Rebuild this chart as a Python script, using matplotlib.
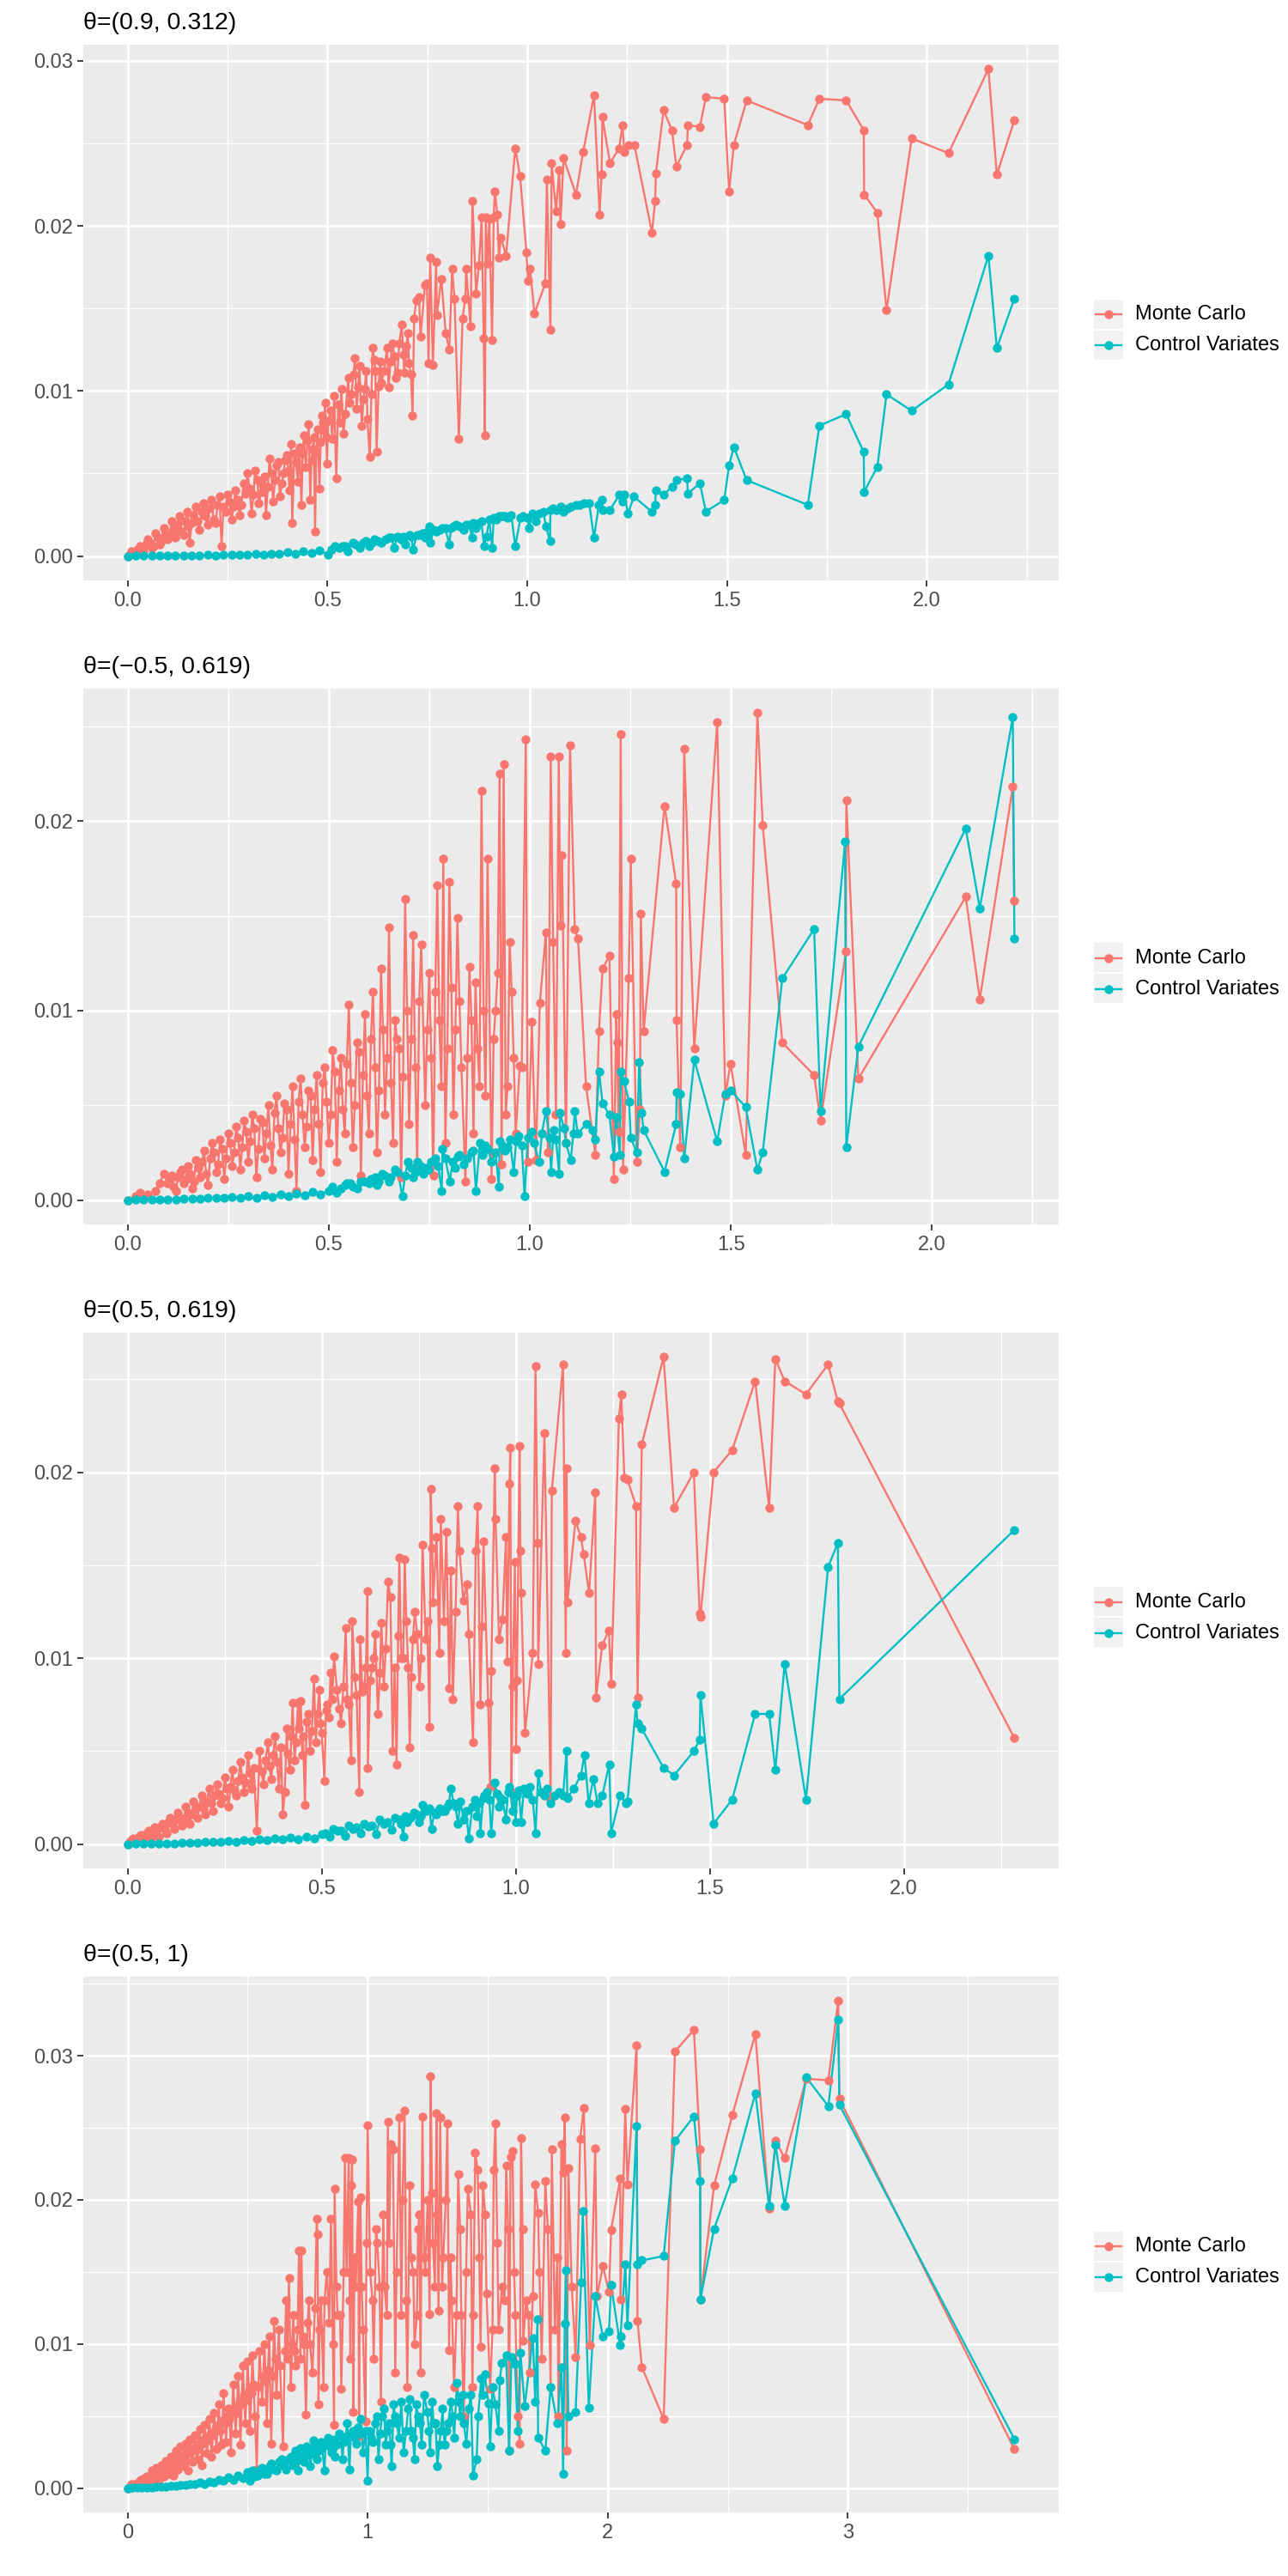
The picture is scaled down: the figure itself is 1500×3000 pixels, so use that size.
import matplotlib
matplotlib.use("Agg")
import matplotlib.pyplot as plt
from matplotlib.lines import Line2D
from matplotlib.patches import Rectangle
from matplotlib.ticker import MultipleLocator, FormatStrFormatter

plt.rcParams["font.family"] = ["Liberation Sans", "DejaVu Sans"]

SERIES = ["Monte Carlo", "Control Variates"]
COLORS = ["#F8766D", "#00BFC4"]
TITLES = ["\u03b8=(0.9, 0.312)", "\u03b8=(\u22120.5, 0.619)",
          "\u03b8=(0.5, 0.619)", "\u03b8=(0.5, 1)"]

# ---- panel 1: theta=(0.9, 0.312) ----
p1_mc_x = [0.000, 0.010, 0.020, 0.030, 0.040, 0.050, 0.060, 0.070, 0.080, 0.090,
           0.100, 0.110, 0.120, 0.130, 0.140, 0.150, 0.155, 0.160, 0.170, 0.180,
           0.190, 0.200, 0.210, 0.220, 0.230, 0.235, 0.240, 0.250, 0.260, 0.270,
           0.280, 0.290, 0.300, 0.310, 0.319, 0.328, 0.339, 0.346, 0.355, 0.364,
           0.373, 0.381, 0.390, 0.399, 0.405, 0.412, 0.417, 0.426, 0.430, 0.435,
           0.441, 0.446, 0.453, 0.457, 0.463, 0.469, 0.475, 0.480, 0.486, 0.491,
           0.494, 0.499, 0.502, 0.517, 0.522, 0.531, 0.540, 0.552, 0.555, 0.569,
           0.573, 0.580, 0.586, 0.593, 0.600, 0.606, 0.613, 0.617, 0.623, 0.628,
           0.635, 0.649, 0.653, 0.662, 0.675, 0.680, 0.686, 0.692, 0.698, 0.704,
           0.709, 0.713, 0.717, 0.722, 0.729, 0.733, 0.744, 0.749, 0.753, 0.757,
           0.764, 0.772, 0.774, 0.785, 0.796, 0.805, 0.812, 0.818, 0.829, 0.838,
           0.845, 0.847, 0.858, 0.863, 0.872, 0.879, 0.886, 0.891, 0.894, 0.896,
           0.901, 0.905, 0.912, 0.916, 0.919, 0.925, 0.929, 0.934, 0.947, 0.970,
           0.982, 0.998, 1.002, 1.007, 1.018, 1.045, 1.049, 1.058, 1.061, 1.072,
           1.080, 1.083, 1.091, 1.122, 1.140, 1.167, 1.181, 1.186, 1.188, 1.207,
           1.230, 1.238, 1.243, 1.254, 1.268, 1.312, 1.320, 1.322, 1.341, 1.362,
           1.373, 1.400, 1.402, 1.432, 1.447, 1.493, 1.505, 1.517, 1.549, 1.702,
           1.731, 1.798, 1.842, 1.843, 1.876, 1.899, 1.962, 2.054, 2.154, 2.175,
           2.219]
p1_mc = [0.0000, 0.0003, 0.0001, 0.0006, 0.0003, 0.0010, 0.0005, 0.0014, 0.0007, 0.0017,
         0.0010, 0.0021, 0.0011, 0.0024, 0.0013, 0.0027, 0.0008, 0.0020, 0.0030, 0.0016,
         0.0032, 0.0019, 0.0034, 0.0020, 0.0036, 0.0006, 0.0030, 0.0037, 0.0022, 0.0040,
         0.0025, 0.0044, 0.0050, 0.0026, 0.0052, 0.0032, 0.0043, 0.0025, 0.0059, 0.0033,
         0.0055, 0.0036, 0.0050, 0.0061, 0.0040, 0.0020, 0.0062, 0.0045, 0.0066, 0.0031,
         0.0073, 0.0054, 0.0080, 0.0034, 0.0065, 0.0015, 0.0077, 0.0041, 0.0085, 0.0076,
         0.0093, 0.0056, 0.0082, 0.0097, 0.0047, 0.0081, 0.0074, 0.0108, 0.0093, 0.0120,
         0.0089, 0.0115, 0.0079, 0.0101, 0.0083, 0.0060, 0.0126, 0.0119, 0.0063, 0.0103,
         0.0105, 0.0126, 0.0102, 0.0129, 0.0111, 0.0129, 0.0140, 0.0111, 0.0127, 0.0117,
         0.0110, 0.0085, 0.0144, 0.0155, 0.0157, 0.0133, 0.0164, 0.0165, 0.0117, 0.0181,
         0.0116, 0.0178, 0.0146, 0.0168, 0.0135, 0.0125, 0.0174, 0.0156, 0.0071, 0.0144,
         0.0156, 0.0174, 0.0139, 0.0215, 0.0159, 0.0176, 0.0205, 0.0132, 0.0073, 0.0205,
         0.0177, 0.0204, 0.0131, 0.0205, 0.0221, 0.0207, 0.0181, 0.0193, 0.0182, 0.0247,
         0.0230, 0.0184, 0.0167, 0.0174, 0.0147, 0.0165, 0.0228, 0.0137, 0.0238, 0.0209,
         0.0234, 0.0201, 0.0241, 0.0219, 0.0245, 0.0279, 0.0207, 0.0231, 0.0266, 0.0238,
         0.0247, 0.0261, 0.0245, 0.0249, 0.0249, 0.0196, 0.0215, 0.0232, 0.0270, 0.0258,
         0.0236, 0.0249, 0.0261, 0.0260, 0.0278, 0.0277, 0.0221, 0.0249, 0.0276, 0.0261,
         0.0277, 0.0276, 0.0258, 0.0219, 0.0208, 0.0149, 0.0253, 0.0244, 0.0295, 0.0231,
         0.0264]
# extra readings inside the dense low-x cloud
p1_mc_extra_x = [0.005, 0.015, 0.025, 0.035, 0.045, 0.055, 0.065, 0.075, 0.085, 0.095,
                 0.105, 0.115, 0.125, 0.135, 0.145, 0.152, 0.165, 0.175, 0.185, 0.195,
                 0.205, 0.215, 0.225, 0.245, 0.255, 0.265, 0.275, 0.285, 0.295, 0.305,
                 0.315, 0.325, 0.335, 0.343, 0.351, 0.360, 0.369, 0.377, 0.386, 0.394,
                 0.402, 0.409, 0.421, 0.438, 0.450, 0.460, 0.466, 0.472, 0.483, 0.489,
                 0.497, 0.508, 0.512, 0.527, 0.535, 0.545, 0.560, 0.565, 0.577, 0.590,
                 0.597, 0.610, 0.620, 0.632, 0.642, 0.658, 0.668, 0.671, 0.690, 0.701]
p1_mc_extra = [0.0001, 0.0002, 0.0004, 0.0003, 0.0007, 0.0008, 0.0006, 0.0011, 0.0009, 0.0014,
               0.0013, 0.0016, 0.0019, 0.0015, 0.0021, 0.0018, 0.0025, 0.0021, 0.0027, 0.0024,
               0.0029, 0.0022, 0.0031, 0.0027, 0.0033, 0.0030, 0.0034, 0.0031, 0.0038, 0.0041,
               0.0037, 0.0046, 0.0039, 0.0048, 0.0042, 0.0050, 0.0046, 0.0057, 0.0044, 0.0058,
               0.0052, 0.0068, 0.0057, 0.0062, 0.0070, 0.0058, 0.0072, 0.0063, 0.0069, 0.0081,
               0.0072, 0.0088, 0.0071, 0.0092, 0.0101, 0.0086, 0.0098, 0.0110, 0.0102, 0.0095,
               0.0112, 0.0098, 0.0112, 0.0118, 0.0112, 0.0118, 0.0121, 0.0108, 0.0122, 0.0135]
p1_cv_x = [0.00, 0.02, 0.04, 0.06, 0.08, 0.10, 0.12, 0.14, 0.16, 0.18,
           0.20, 0.22, 0.24, 0.26, 0.28, 0.30, 0.32, 0.34, 0.36, 0.38,
           0.40, 0.42, 0.44, 0.46, 0.48, 0.502, 0.519, 0.537, 0.550, 0.564,
           0.580, 0.595, 0.605, 0.618, 0.635, 0.653, 0.667, 0.675, 0.685, 0.695,
           0.705, 0.714, 0.724, 0.738, 0.745, 0.756, 0.758, 0.773, 0.787, 0.805,
           0.809, 0.822, 0.840, 0.847, 0.862, 0.872, 0.880, 0.892, 0.898, 0.912,
           0.916, 0.929, 0.940, 0.950, 0.970, 0.983, 1.000, 1.005, 1.021, 1.047,
           1.057, 1.058, 1.072, 1.083, 1.090, 1.122, 1.141, 1.167, 1.179, 1.186,
           1.190, 1.207, 1.230, 1.238, 1.243, 1.252, 1.267, 1.311, 1.320, 1.322,
           1.341, 1.362, 1.373, 1.400, 1.402, 1.432, 1.447, 1.493, 1.505, 1.517,
           1.549, 1.702, 1.731, 1.798, 1.842, 1.843, 1.876, 1.899, 1.962, 2.054,
           2.154, 2.175, 2.219]
p1_cv = [0.00000, 0.00001, 0.00002, 0.00001, 0.00003, 0.00002, 0.00004, 0.00003, 0.00005, 0.00004,
         0.00006, 0.00005, 0.00008, 0.00006, 0.00010, 0.00008, 0.00013, 0.00010, 0.00016, 0.00012,
         0.00022, 0.00015, 0.00028, 0.00020, 0.00035, 0.0001, 0.0006, 0.0006, 0.0003, 0.0008,
         0.0005, 0.0009, 0.0006, 0.0010, 0.0008, 0.0011, 0.0005, 0.0012, 0.0010, 0.0007,
         0.0013, 0.0004, 0.0013, 0.0014, 0.0011, 0.0018, 0.0008, 0.0015, 0.0017, 0.0007,
         0.0017, 0.0019, 0.0016, 0.0019, 0.0011, 0.0017, 0.0020, 0.0006, 0.0012, 0.0005,
         0.0023, 0.0024, 0.0024, 0.0023, 0.0006, 0.0023, 0.0023, 0.0017, 0.0021, 0.0018,
         0.0009, 0.0028, 0.0028, 0.0030, 0.0027, 0.0031, 0.0032, 0.0011, 0.0031, 0.0034,
         0.0028, 0.0028, 0.0037, 0.0033, 0.0037, 0.0026, 0.0036, 0.0027, 0.0031, 0.0040,
         0.0037, 0.0042, 0.0046, 0.0047, 0.0038, 0.0044, 0.0027, 0.0034, 0.0055, 0.0066,
         0.0046, 0.0031, 0.0079, 0.0086, 0.0063, 0.0039, 0.0054, 0.0098, 0.0088, 0.0104,
         0.0182, 0.0126, 0.0156]
p1_cv_extra_x = [0.51, 0.53, 0.545, 0.57, 0.59, 0.61, 0.625, 0.645, 0.66, 0.68,
                 0.69, 0.71, 0.73, 0.75, 0.765, 0.78, 0.795, 0.815, 0.83, 0.855,
                 0.865, 0.885, 0.905, 0.922, 0.935, 0.945, 0.96, 0.99, 1.012, 1.03,
                 1.04, 1.065, 1.10, 1.11, 1.13, 1.155]
p1_cv_extra = [0.0004, 0.0005, 0.0006, 0.0007, 0.0008, 0.0008, 0.0009, 0.0010, 0.0011, 0.0011,
               0.0012, 0.0012, 0.0013, 0.0015, 0.0016, 0.0016, 0.0017, 0.0018, 0.0018, 0.0019,
               0.0020, 0.0021, 0.0022, 0.0022, 0.0024, 0.0024, 0.0025, 0.0024, 0.0026, 0.0026,
               0.0027, 0.0029, 0.0029, 0.0030, 0.0031, 0.0032]

# ---- panel 2: theta=(-0.5, 0.619) ----
p2_mc_x = [0.00, 0.02, 0.03, 0.05, 0.07, 0.08, 0.09, 0.10, 0.11, 0.12,
           0.13, 0.14, 0.15, 0.16, 0.17, 0.18, 0.19, 0.20, 0.21, 0.22,
           0.23, 0.24, 0.25, 0.26, 0.27, 0.28, 0.29, 0.30, 0.31, 0.32,
           0.33, 0.34, 0.35, 0.36, 0.37, 0.38, 0.39, 0.40, 0.41, 0.42,
           0.43, 0.44, 0.45, 0.46, 0.47, 0.48, 0.49, 0.50, 0.51, 0.52,
           0.53, 0.54, 0.55, 0.56, 0.57, 0.58, 0.59, 0.60, 0.61, 0.62,
           0.63, 0.64, 0.65, 0.66, 0.67, 0.68, 0.69, 0.70, 0.71, 0.72,
           0.73, 0.74, 0.75, 0.76, 0.77, 0.78, 0.785, 0.79, 0.80, 0.81,
           0.82, 0.83, 0.84, 0.85, 0.86, 0.87, 0.88, 0.89, 0.895, 0.905,
           0.915, 0.925, 0.93, 0.935, 0.945, 0.95, 0.96, 0.975, 0.99, 0.995,
           1.005, 1.015, 1.025, 1.04, 1.045, 1.052, 1.058, 1.065, 1.072, 1.076,
           1.08, 1.09, 1.10, 1.112, 1.12, 1.14, 1.163, 1.172, 1.181, 1.198,
           1.209, 1.215, 1.217, 1.221, 1.226, 1.232, 1.246, 1.251, 1.266, 1.274,
           1.276, 1.283, 1.335, 1.364, 1.365, 1.374, 1.384, 1.409, 1.466, 1.486,
           1.499, 1.537, 1.566, 1.579, 1.628, 1.707, 1.723, 1.786, 1.787, 1.817,
           2.084, 2.119, 2.201, 2.205]
p2_mc = [0.0000, 0.0002, 0.0004, 0.0003, 0.0005, 0.0009, 0.0014, 0.0009, 0.0013, 0.0005,
         0.0015, 0.0009, 0.0018, 0.0006, 0.0021, 0.0012, 0.0026, 0.0008, 0.0030, 0.0015,
         0.0032, 0.0011, 0.0035, 0.0018, 0.0039, 0.0016, 0.0042, 0.0020, 0.0045, 0.0012,
         0.0043, 0.0022, 0.0050, 0.0016, 0.0055, 0.0025, 0.0051, 0.0014, 0.0060, 0.0005,
         0.0064, 0.0028, 0.0058, 0.0021, 0.0066, 0.0015, 0.0070, 0.0030, 0.0079, 0.0020,
         0.0075, 0.0035, 0.0103, 0.0028, 0.0083, 0.0013, 0.0098, 0.0035, 0.0110, 0.0025,
         0.0122, 0.0045, 0.0144, 0.0030, 0.0085, 0.0012, 0.0159, 0.0040, 0.0140, 0.0018,
         0.0135, 0.0050, 0.0120, 0.0013, 0.0166, 0.0060, 0.0180, 0.0030, 0.0168, 0.0045,
         0.0149, 0.0070, 0.0010, 0.0123, 0.0035, 0.0080, 0.0216, 0.0055, 0.0180, 0.0011,
         0.0100, 0.0225, 0.0019, 0.0230, 0.0060, 0.0136, 0.0075, 0.0071, 0.0243, 0.0020,
         0.0094, 0.0021, 0.0104, 0.0141, 0.0025, 0.0234, 0.0136, 0.0045, 0.0234, 0.0145,
         0.0182, 0.0030, 0.0240, 0.0143, 0.0138, 0.0060, 0.0024, 0.0089, 0.0122, 0.0129,
         0.0011, 0.0098, 0.0083, 0.0036, 0.0246, 0.0016, 0.0117, 0.0180, 0.0020, 0.0048,
         0.0151, 0.0089, 0.0208, 0.0167, 0.0095, 0.0028, 0.0238, 0.0080, 0.0252, 0.0055,
         0.0072, 0.0024, 0.0257, 0.0198, 0.0083, 0.0066, 0.0042, 0.0131, 0.0211, 0.0064,
         0.0160, 0.0106, 0.0218, 0.0158]
p2_mc_extra_x = [0.105, 0.115, 0.125, 0.135, 0.145, 0.155, 0.165, 0.175, 0.185, 0.195,
                 0.205, 0.215, 0.225, 0.235, 0.245, 0.255, 0.265, 0.275, 0.285, 0.295,
                 0.305, 0.315, 0.325, 0.335, 0.345, 0.355, 0.365, 0.375, 0.385, 0.395,
                 0.405, 0.415, 0.425, 0.435, 0.445, 0.455, 0.465, 0.475, 0.485, 0.495,
                 0.505, 0.515, 0.525, 0.535, 0.545, 0.555, 0.565, 0.575, 0.585, 0.595,
                 0.605, 0.615, 0.625, 0.635, 0.645, 0.655, 0.665, 0.675, 0.685, 0.695,
                 0.705, 0.715, 0.725, 0.745, 0.755, 0.765, 0.775, 0.795, 0.805, 0.815,
                 0.825, 0.845, 0.855, 0.865, 0.875, 0.885, 0.91, 0.92, 0.94, 0.955,
                 0.965, 0.98]
p2_mc_extra = [0.0011, 0.0007, 0.0012, 0.0016, 0.0011, 0.0014, 0.0010, 0.0017, 0.0020, 0.0014,
               0.0022, 0.0025, 0.0019, 0.0027, 0.0022, 0.0030, 0.0025, 0.0033, 0.0028, 0.0036,
               0.0031, 0.0038, 0.0027, 0.0041, 0.0035, 0.0029, 0.0046, 0.0038, 0.0033, 0.0048,
               0.0040, 0.0032, 0.0052, 0.0045, 0.0039, 0.0055, 0.0048, 0.0040, 0.0062, 0.0052,
               0.0045, 0.0068, 0.0058, 0.0048, 0.0072, 0.0062, 0.0050, 0.0078, 0.0066, 0.0055,
               0.0085, 0.0070, 0.0058, 0.0090, 0.0075, 0.0062, 0.0095, 0.0080, 0.0065, 0.0100,
               0.0085, 0.0070, 0.0105, 0.0090, 0.0075, 0.0110, 0.0095, 0.0080, 0.0112, 0.0090,
               0.0105, 0.0075, 0.0095, 0.0115, 0.0060, 0.0100, 0.0085, 0.0120, 0.0045, 0.0110,
               0.0035, 0.0070]
p2_cv_x = [0.00, 0.02, 0.04, 0.06, 0.08, 0.10, 0.12, 0.14, 0.16, 0.18,
           0.20, 0.22, 0.24, 0.26, 0.28, 0.30, 0.32, 0.34, 0.36, 0.38,
           0.40, 0.42, 0.44, 0.46, 0.48, 0.500, 0.52, 0.54, 0.553, 0.57,
           0.59, 0.606, 0.62, 0.633, 0.65, 0.665, 0.683, 0.697, 0.71, 0.721,
           0.735, 0.748, 0.765, 0.781, 0.783, 0.801, 0.814, 0.825, 0.836, 0.854,
           0.866, 0.876, 0.889, 0.905, 0.923, 0.925, 0.938, 0.950, 0.960, 0.973,
           0.987, 1.004, 1.024, 1.040, 1.049, 1.053, 1.059, 1.073, 1.075, 1.090,
           1.102, 1.112, 1.119, 1.163, 1.172, 1.181, 1.198, 1.209, 1.215, 1.224,
           1.226, 1.234, 1.247, 1.251, 1.266, 1.272, 1.278, 1.283, 1.335, 1.364,
           1.365, 1.374, 1.384, 1.409, 1.466, 1.486, 1.499, 1.537, 1.566, 1.579,
           1.628, 1.707, 1.723, 1.784, 1.787, 1.817, 2.084, 2.119, 2.201, 2.205]
p2_cv = [0.00000, 0.00001, 0.00002, 0.00002, 0.00003, 0.00004, 0.00005, 0.00006, 0.00008, 0.00007,
         0.00010, 0.00012, 0.00010, 0.00015, 0.00012, 0.00020, 0.00010, 0.00025, 0.00018, 0.00030,
         0.00022, 0.00036, 0.00025, 0.00045, 0.00030, 0.0005, 0.0004, 0.0008, 0.0009, 0.0006,
         0.0010, 0.0011, 0.0008, 0.0014, 0.0010, 0.0016, 0.0002, 0.0020, 0.0012, 0.0020,
         0.0014, 0.0016, 0.0022, 0.0005, 0.0027, 0.0010, 0.0017, 0.0024, 0.0019, 0.0025,
         0.0005, 0.0030, 0.0029, 0.0020, 0.0007, 0.0031, 0.0026, 0.0032, 0.0015, 0.0034,
         0.0002, 0.0036, 0.0020, 0.0047, 0.0033, 0.0015, 0.0037, 0.0014, 0.0046, 0.0030,
         0.0021, 0.0047, 0.0035, 0.0032, 0.0068, 0.0051, 0.0045, 0.0023, 0.0044, 0.0024,
         0.0068, 0.0063, 0.0052, 0.0033, 0.0025, 0.0073, 0.0046, 0.0037, 0.0015, 0.0040,
         0.0057, 0.0056, 0.0022, 0.0074, 0.0031, 0.0056, 0.0058, 0.0049, 0.0016, 0.0025,
         0.0117, 0.0143, 0.0047, 0.0189, 0.0028, 0.0081, 0.0196, 0.0154, 0.0255, 0.0138]
p2_cv_extra_x = [0.51, 0.53, 0.545, 0.56, 0.58, 0.60, 0.615, 0.625, 0.64, 0.655,
                 0.672, 0.69, 0.705, 0.715, 0.728, 0.742, 0.755, 0.772, 0.79, 0.808,
                 0.82, 0.845, 0.86, 0.882, 0.896, 0.915, 0.932, 0.945, 0.966, 0.98,
                 0.995, 1.01, 1.03, 1.065, 1.085, 1.108, 1.14, 1.155]
p2_cv_extra = [0.0007, 0.0006, 0.0009, 0.0007, 0.0010, 0.0009, 0.0012, 0.0010, 0.0013, 0.0012,
               0.0015, 0.0013, 0.0017, 0.0015, 0.0018, 0.0017, 0.0020, 0.0018, 0.0022, 0.0020,
               0.0023, 0.0022, 0.0026, 0.0024, 0.0027, 0.0025, 0.0029, 0.0028, 0.0031, 0.0029,
               0.0033, 0.0030, 0.0035, 0.0032, 0.0038, 0.0035, 0.0040, 0.0037]

# ---- panel 3: theta=(0.5, 0.619) ----
p3_mc_x = [0.00, 0.01, 0.02, 0.03, 0.04, 0.05, 0.06, 0.07, 0.08, 0.09,
           0.10, 0.11, 0.12, 0.13, 0.14, 0.15, 0.16, 0.17, 0.18, 0.19,
           0.20, 0.21, 0.22, 0.23, 0.24, 0.25, 0.26, 0.27, 0.28, 0.29,
           0.30, 0.31, 0.32, 0.333, 0.34, 0.35, 0.362, 0.37, 0.38, 0.39,
           0.400, 0.405, 0.41, 0.418, 0.425, 0.43, 0.439, 0.446, 0.45, 0.457,
           0.465, 0.47, 0.480, 0.485, 0.494, 0.50, 0.507, 0.515, 0.523, 0.532,
           0.539, 0.55, 0.562, 0.57, 0.576, 0.579, 0.59, 0.597, 0.599, 0.61,
           0.618, 0.619, 0.63, 0.638, 0.645, 0.654, 0.66, 0.671, 0.677, 0.683,
           0.693, 0.700, 0.705, 0.714, 0.723, 0.727, 0.735, 0.746, 0.752, 0.760,
           0.768, 0.778, 0.781, 0.785, 0.787, 0.796, 0.803, 0.807, 0.815, 0.821,
           0.829, 0.833, 0.838, 0.845, 0.851, 0.855, 0.865, 0.874, 0.879, 0.890,
           0.897, 0.902, 0.909, 0.913, 0.917, 0.929, 0.934, 0.937, 0.946, 0.948,
           0.957, 0.966, 0.975, 0.978, 0.984, 0.986, 0.989, 0.992, 0.998, 1.001,
           1.003, 1.010, 1.012, 1.014, 1.024, 1.044, 1.051, 1.056, 1.058, 1.074,
           1.090, 1.093, 1.122, 1.129, 1.131, 1.133, 1.154, 1.168, 1.175, 1.189,
           1.205, 1.207, 1.223, 1.240, 1.246, 1.266, 1.272, 1.280, 1.288, 1.310,
           1.314, 1.325, 1.381, 1.408, 1.459, 1.474, 1.476, 1.510, 1.558, 1.617,
           1.653, 1.669, 1.693, 1.748, 1.805, 1.830, 1.834, 2.285]
p3_mc = [0.0000, 0.0002, 0.0001, 0.0004, 0.0002, 0.0006, 0.0003, 0.0009, 0.0004, 0.0011,
         0.0006, 0.0014, 0.0008, 0.0017, 0.0010, 0.0020, 0.0011, 0.0023, 0.0014, 0.0026,
         0.0016, 0.0030, 0.0018, 0.0032, 0.0022, 0.0036, 0.0020, 0.0040, 0.0026, 0.0044,
         0.0028, 0.0048, 0.0030, 0.0007, 0.0050, 0.0032, 0.0055, 0.0035, 0.0058, 0.0030,
         0.0016, 0.0028, 0.0062, 0.0040, 0.0076, 0.0045, 0.0076, 0.0077, 0.0048, 0.0021,
         0.0070, 0.0050, 0.0089, 0.0055, 0.0083, 0.0060, 0.0034, 0.0075, 0.0092, 0.0101,
         0.0083, 0.0065, 0.0116, 0.0075, 0.0045, 0.0120, 0.0080, 0.0028, 0.0110, 0.0085,
         0.0136, 0.0041, 0.0095, 0.0113, 0.0070, 0.0119, 0.0085, 0.0141, 0.0133, 0.0050,
         0.0043, 0.0154, 0.0100, 0.0153, 0.0095, 0.0052, 0.0110, 0.0113, 0.0085, 0.0161,
         0.0110, 0.0063, 0.0191, 0.0159, 0.0130, 0.0165, 0.0103, 0.0175, 0.0120, 0.0168,
         0.0084, 0.0147, 0.0078, 0.0125, 0.0182, 0.0158, 0.0131, 0.0140, 0.0113, 0.0055,
         0.0158, 0.0182, 0.0075, 0.0117, 0.0163, 0.0076, 0.0031, 0.0093, 0.0202, 0.0175,
         0.0110, 0.0121, 0.0165, 0.0098, 0.0194, 0.0213, 0.0028, 0.0085, 0.0152, 0.0051,
         0.0088, 0.0214, 0.0158, 0.0135, 0.0060, 0.0103, 0.0257, 0.0162, 0.0097, 0.0221,
         0.0024, 0.0190, 0.0258, 0.0103, 0.0202, 0.0130, 0.0174, 0.0165, 0.0156, 0.0135,
         0.0189, 0.0079, 0.0107, 0.0115, 0.0086, 0.0229, 0.0242, 0.0197, 0.0196, 0.0182,
         0.0079, 0.0215, 0.0262, 0.0181, 0.0200, 0.0124, 0.0122, 0.0200, 0.0212, 0.0249,
         0.0181, 0.0261, 0.0249, 0.0242, 0.0258, 0.0238, 0.0237, 0.0057]
p3_mc_extra_x = [0.005, 0.015, 0.025, 0.035, 0.045, 0.055, 0.065, 0.075, 0.085, 0.095,
                 0.105, 0.115, 0.125, 0.135, 0.145, 0.155, 0.165, 0.175, 0.185, 0.195,
                 0.205, 0.215, 0.225, 0.235, 0.245, 0.255, 0.265, 0.275, 0.285, 0.295,
                 0.305, 0.315, 0.325, 0.345, 0.355, 0.365, 0.375, 0.385, 0.395, 0.412,
                 0.422, 0.434, 0.442, 0.452, 0.461, 0.475, 0.489, 0.497, 0.511, 0.519,
                 0.527, 0.545, 0.556, 0.566, 0.585, 0.605, 0.614, 0.625, 0.634, 0.650,
                 0.665, 0.688, 0.697, 0.710, 0.718, 0.731, 0.740, 0.756, 0.772]
p3_mc_extra = [0.0001, 0.0003, 0.0003, 0.0005, 0.0004, 0.0007, 0.0006, 0.0008, 0.0009, 0.0008,
               0.0012, 0.0011, 0.0013, 0.0014, 0.0013, 0.0017, 0.0016, 0.0019, 0.0020, 0.0019,
               0.0023, 0.0022, 0.0026, 0.0027, 0.0025, 0.0030, 0.0031, 0.0029, 0.0034, 0.0036,
               0.0033, 0.0038, 0.0041, 0.0039, 0.0045, 0.0042, 0.0048, 0.0044, 0.0052, 0.0049,
               0.0058, 0.0055, 0.0062, 0.0058, 0.0066, 0.0061, 0.0070, 0.0065, 0.0072, 0.0068,
               0.0078, 0.0073, 0.0085, 0.0078, 0.0090, 0.0082, 0.0095, 0.0088, 0.0100, 0.0092,
               0.0105, 0.0095, 0.0112, 0.0100, 0.0120, 0.0090, 0.0125, 0.0100, 0.0120]
p3_cv_x = [0.00, 0.02, 0.04, 0.06, 0.08, 0.10, 0.12, 0.14, 0.16, 0.18,
           0.20, 0.22, 0.24, 0.26, 0.28, 0.30, 0.32, 0.34, 0.36, 0.38,
           0.40, 0.42, 0.44, 0.46, 0.48, 0.50, 0.52, 0.54, 0.56, 0.58,
           0.60, 0.62, 0.64, 0.66, 0.68, 0.70, 0.71, 0.72, 0.737, 0.75,
           0.76, 0.778, 0.783, 0.796, 0.81, 0.824, 0.833, 0.840, 0.851, 0.865,
           0.879, 0.888, 0.900, 0.909, 0.916, 0.925, 0.937, 0.946, 0.957, 0.966,
           0.975, 0.984, 0.992, 1.000, 1.003, 1.014, 1.021, 1.044, 1.051, 1.058,
           1.074, 1.090, 1.122, 1.131, 1.133, 1.150, 1.168, 1.177, 1.188, 1.200,
           1.211, 1.223, 1.241, 1.246, 1.269, 1.284, 1.288, 1.310, 1.314, 1.325,
           1.381, 1.408, 1.459, 1.474, 1.476, 1.510, 1.558, 1.617, 1.653, 1.669,
           1.693, 1.748, 1.805, 1.830, 1.834, 2.285]
p3_cv = [0.00000, 0.00001, 0.00002, 0.00002, 0.00003, 0.00004, 0.00005, 0.00006, 0.00007, 0.00009,
         0.00010, 0.00012, 0.00010, 0.00016, 0.00013, 0.00020, 0.00016, 0.00025, 0.00020, 0.00030,
         0.00024, 0.00036, 0.00028, 0.00042, 0.00030, 0.00055, 0.00040, 0.00070, 0.00045, 0.00080,
         0.00060, 0.00095, 0.00055, 0.00110, 0.00075, 0.00130, 0.00040, 0.00120, 0.0017, 0.0012,
         0.0021, 0.0019, 0.0008, 0.0016, 0.0018, 0.0020, 0.0030, 0.0022, 0.0011, 0.0013,
         0.0003, 0.0020, 0.0015, 0.0006, 0.0025, 0.0028, 0.0006, 0.0033, 0.0020, 0.0024,
         0.0013, 0.0031, 0.0018, 0.0012, 0.0026, 0.0012, 0.0030, 0.0024, 0.0006, 0.0038,
         0.0026, 0.0022, 0.0026, 0.0050, 0.0025, 0.0030, 0.0037, 0.0048, 0.0022, 0.0035,
         0.0022, 0.0026, 0.0043, 0.0006, 0.0026, 0.0022, 0.0023, 0.0075, 0.0065, 0.0062,
         0.0041, 0.0037, 0.0050, 0.0056, 0.0080, 0.0011, 0.0024, 0.0070, 0.0070, 0.0040,
         0.0097, 0.0024, 0.0149, 0.0162, 0.0078, 0.0169]
p3_cv_extra_x = [0.51, 0.53, 0.55, 0.57, 0.59, 0.61, 0.63, 0.65, 0.67, 0.69,
                 0.705, 0.715, 0.728, 0.745, 0.755, 0.768, 0.79, 0.803, 0.817, 0.828,
                 0.845, 0.858, 0.872, 0.895, 0.905, 0.92, 0.932, 0.952, 0.962, 0.98,
                 0.996, 1.008, 1.03, 1.037, 1.065, 1.08, 1.10, 1.112]
p3_cv_extra = [0.0006, 0.0008, 0.0007, 0.0010, 0.0009, 0.0011, 0.0010, 0.0013, 0.0012, 0.0014,
               0.0011, 0.0015, 0.0014, 0.0016, 0.0015, 0.0018, 0.0017, 0.0019, 0.0018, 0.0022,
               0.0020, 0.0023, 0.0018, 0.0024, 0.0022, 0.0026, 0.0024, 0.0027, 0.0025, 0.0028,
               0.0026, 0.0029, 0.0027, 0.0031, 0.0028, 0.0030, 0.0026, 0.0028]

# ---- panel 4: theta=(0.5, 1) ----
p4_mc_x = [0.00, 0.02, 0.04, 0.05, 0.06, 0.08, 0.09, 0.10, 0.11, 0.12,
           0.13, 0.14, 0.15, 0.16, 0.17, 0.18, 0.19, 0.20, 0.21, 0.22,
           0.23, 0.24, 0.25, 0.26, 0.27, 0.28, 0.29, 0.30, 0.31, 0.32,
           0.33, 0.34, 0.35, 0.36, 0.37, 0.38, 0.39, 0.40, 0.41, 0.42,
           0.43, 0.44, 0.45, 0.46, 0.47, 0.48, 0.49, 0.50, 0.51, 0.52,
           0.53, 0.538, 0.55, 0.56, 0.57, 0.58, 0.59, 0.598, 0.61, 0.62,
           0.63, 0.647, 0.66, 0.672, 0.68, 0.69, 0.70, 0.714, 0.72, 0.724,
           0.735, 0.743, 0.755, 0.77, 0.788, 0.791, 0.795, 0.805, 0.816, 0.83,
           0.847, 0.855, 0.860, 0.862, 0.875, 0.890, 0.905, 0.912, 0.921, 0.928,
           0.932, 0.935, 0.940, 0.950, 0.961, 0.964, 0.969, 0.980, 0.991, 1.000,
           1.010, 1.025, 1.040, 1.055, 1.070, 1.084, 1.095, 1.105, 1.115, 1.132,
           1.140, 1.154, 1.165, 1.180, 1.195, 1.210, 1.220, 1.228, 1.240, 1.258,
           1.262, 1.268, 1.280, 1.287, 1.295, 1.302, 1.315, 1.332, 1.339, 1.350,
           1.360, 1.377, 1.390, 1.400, 1.417, 1.436, 1.448, 1.458, 1.470, 1.480,
           1.495, 1.510, 1.525, 1.532, 1.545, 1.560, 1.577, 1.589, 1.595, 1.603,
           1.615, 1.625, 1.633, 1.639, 1.648, 1.660, 1.675, 1.688, 1.698, 1.710,
           1.725, 1.740, 1.762, 1.767, 1.780, 1.795, 1.807, 1.814, 1.821, 1.829,
           1.836, 1.850, 1.866, 1.885, 1.900, 1.925, 1.948, 1.955, 1.980, 2.005,
           2.014, 2.052, 2.053, 2.073, 2.082, 2.120, 2.124, 2.142, 2.233, 2.280,
           2.359, 2.385, 2.386, 2.443, 2.519, 2.615, 2.672, 2.699, 2.737, 2.827,
           2.919, 2.960, 2.965, 3.694]
p4_mc = [0.0000, 0.0002, 0.0001, 0.0005, 0.0002, 0.0008, 0.0003, 0.0012, 0.0005, 0.0014,
         0.0006, 0.0016, 0.0008, 0.0019, 0.0010, 0.0022, 0.0009, 0.0026, 0.0013, 0.0029,
         0.0015, 0.0031, 0.0012, 0.0034, 0.0018, 0.0037, 0.0020, 0.0041, 0.0016, 0.0044,
         0.0024, 0.0048, 0.0022, 0.0052, 0.0027, 0.0058, 0.0030, 0.0066, 0.0032, 0.0055,
         0.0025, 0.0072, 0.0038, 0.0078, 0.0030, 0.0085, 0.0045, 0.0088, 0.0040, 0.0092,
         0.0050, 0.0013, 0.0095, 0.0060, 0.0100, 0.0045, 0.0105, 0.0031, 0.0116, 0.0065,
         0.0110, 0.0029, 0.0130, 0.0146, 0.0070, 0.0120, 0.0085, 0.0165, 0.0090, 0.0165,
         0.0100, 0.0051, 0.0130, 0.0080, 0.0187, 0.0176, 0.0058, 0.0130, 0.0070, 0.0150,
         0.0187, 0.0100, 0.0044, 0.0208, 0.0120, 0.0069, 0.0229, 0.0150, 0.0229, 0.0090,
         0.0210, 0.0228, 0.0053, 0.0140, 0.0199, 0.0036, 0.0202, 0.0110, 0.0046, 0.0252,
         0.0150, 0.0090, 0.0170, 0.0060, 0.0140, 0.0254, 0.0239, 0.0235, 0.0080, 0.0257,
         0.0120, 0.0262, 0.0070, 0.0160, 0.0100, 0.0180, 0.0080, 0.0258, 0.0150, 0.0121,
         0.0286, 0.0205, 0.0140, 0.0260, 0.0123, 0.0257, 0.0160, 0.0253, 0.0096, 0.0130,
         0.0070, 0.0218, 0.0120, 0.0050, 0.0208, 0.0070, 0.0233, 0.0221, 0.0098, 0.0210,
         0.0135, 0.0069, 0.0221, 0.0253, 0.0110, 0.0140, 0.0224, 0.0026, 0.0230, 0.0234,
         0.0120, 0.0050, 0.0031, 0.0243, 0.0102, 0.0130, 0.0080, 0.0133, 0.0211, 0.0191,
         0.0090, 0.0213, 0.0070, 0.0235, 0.0110, 0.0050, 0.0239, 0.0219, 0.0257, 0.0026,
         0.0222, 0.0140, 0.0091, 0.0242, 0.0264, 0.0099, 0.0236, 0.0133, 0.0154, 0.0136,
         0.0179, 0.0215, 0.0131, 0.0263, 0.0211, 0.0307, 0.0116, 0.0084, 0.0048, 0.0303,
         0.0318, 0.0235, 0.0131, 0.0210, 0.0259, 0.0315, 0.0194, 0.0241, 0.0229, 0.0284,
         0.0283, 0.0338, 0.0270, 0.0027]
p4_mc_extra_x = [0.015, 0.03, 0.045, 0.055, 0.07, 0.085, 0.095, 0.105, 0.115, 0.125,
                 0.135, 0.145, 0.155, 0.165, 0.175, 0.185, 0.195, 0.205, 0.215, 0.225,
                 0.235, 0.245, 0.255, 0.265, 0.275, 0.285, 0.295, 0.305, 0.315, 0.325,
                 0.335, 0.345, 0.355, 0.365, 0.375, 0.385, 0.395, 0.405, 0.415, 0.425,
                 0.435, 0.445, 0.455, 0.465, 0.475, 0.485, 0.495, 0.505, 0.515, 0.525,
                 0.545, 0.565, 0.575, 0.585, 0.605, 0.615, 0.635, 0.655, 0.665, 0.685,
                 0.695, 0.708, 0.730, 0.750, 0.760, 0.780, 0.800, 0.820, 0.840, 0.870,
                 0.885, 0.900, 0.925, 0.945, 0.975, 0.995, 1.02, 1.035, 1.05, 1.065,
                 1.08, 1.09, 1.12, 1.145, 1.16, 1.175, 1.19, 1.205, 1.215, 1.235,
                 1.25, 1.272, 1.29, 1.31, 1.325, 1.345, 1.37, 1.385, 1.41, 1.43,
                 1.44, 1.465, 1.49, 1.52, 1.54, 1.57, 1.585, 1.61, 1.645, 1.67,
                 1.715, 1.75, 1.79]
p4_mc_extra = [0.0003, 0.0003, 0.0004, 0.0006, 0.0007, 0.0006, 0.0009, 0.0008, 0.0011, 0.0010,
               0.0012, 0.0013, 0.0012, 0.0015, 0.0016, 0.0015, 0.0019, 0.0018, 0.0021, 0.0022,
               0.0020, 0.0025, 0.0024, 0.0027, 0.0028, 0.0026, 0.0031, 0.0030, 0.0033, 0.0035,
               0.0033, 0.0038, 0.0037, 0.0041, 0.0043, 0.0040, 0.0047, 0.0045, 0.0050, 0.0048,
               0.0053, 0.0056, 0.0052, 0.0060, 0.0058, 0.0064, 0.0061, 0.0068, 0.0066, 0.0072,
               0.0070, 0.0078, 0.0074, 0.0082, 0.0078, 0.0090, 0.0085, 0.0095, 0.0090, 0.0100,
               0.0095, 0.0110, 0.0105, 0.0115, 0.0100, 0.0125, 0.0110, 0.0130, 0.0115, 0.0140,
               0.0120, 0.0150, 0.0130, 0.0160, 0.0140, 0.0170, 0.0130, 0.0180, 0.0140, 0.0190,
               0.0120, 0.0170, 0.0150, 0.0200, 0.0130, 0.0210, 0.0150, 0.0120, 0.0190, 0.0160,
               0.0200, 0.0170, 0.0190, 0.0140, 0.0200, 0.0160, 0.0120, 0.0180, 0.0150, 0.0190,
               0.0120, 0.0160, 0.0190, 0.0110, 0.0170, 0.0130, 0.0180, 0.0150, 0.0180, 0.0120,
               0.0150, 0.0180, 0.0160]
p4_cv_x = [0.00, 0.02, 0.04, 0.06, 0.08, 0.10, 0.12, 0.14, 0.16, 0.18,
           0.20, 0.22, 0.24, 0.26, 0.28, 0.30, 0.32, 0.34, 0.36, 0.38,
           0.40, 0.42, 0.44, 0.46, 0.48, 0.50, 0.51, 0.52, 0.54, 0.56,
           0.58, 0.60, 0.62, 0.64, 0.66, 0.68, 0.687, 0.70, 0.71, 0.72,
           0.735, 0.746, 0.76, 0.775, 0.79, 0.805, 0.82, 0.835, 0.85, 0.865,
           0.88, 0.895, 0.906, 0.915, 0.924, 0.94, 0.954, 0.97, 0.980, 0.991,
           1.000, 1.015, 1.030, 1.045, 1.060, 1.075, 1.090, 1.100, 1.114, 1.130,
           1.150, 1.169, 1.180, 1.195, 1.210, 1.225, 1.248, 1.260, 1.275, 1.290,
           1.305, 1.320, 1.335, 1.347, 1.360, 1.372, 1.385, 1.396, 1.411, 1.421,
           1.439, 1.454, 1.473, 1.488, 1.503, 1.510, 1.532, 1.545, 1.559, 1.577,
           1.589, 1.599, 1.614, 1.625, 1.636, 1.654, 1.688, 1.698, 1.707, 1.710,
           1.740, 1.762, 1.790, 1.807, 1.814, 1.821, 1.826, 1.836, 1.866, 1.889,
           1.896, 1.921, 1.948, 1.980, 2.005, 2.014, 2.052, 2.053, 2.073, 2.082,
           2.120, 2.124, 2.142, 2.233, 2.280, 2.359, 2.385, 2.386, 2.443, 2.519,
           2.615, 2.672, 2.699, 2.737, 2.827, 2.919, 2.960, 2.965, 3.694]
p4_cv = [0.00000, 0.00001, 0.00002, 0.00003, 0.00004, 0.00006, 0.00008, 0.00010, 0.00012, 0.00015,
         0.00018, 0.00022, 0.00020, 0.00030, 0.00025, 0.00038, 0.00030, 0.00048, 0.00040, 0.00060,
         0.00050, 0.00075, 0.00060, 0.00090, 0.00070, 0.00110, 0.00050, 0.00120, 0.00090, 0.00140,
         0.00100, 0.00170, 0.00120, 0.00200, 0.00130, 0.00220, 0.0016, 0.0026, 0.0012, 0.0028,
         0.0018, 0.0029, 0.0015, 0.0033, 0.0020, 0.0032, 0.0012, 0.0035, 0.0025, 0.0022,
         0.0038, 0.0020, 0.0034, 0.0045, 0.0013, 0.0040, 0.0031, 0.0048, 0.0025, 0.0040,
         0.0005, 0.0035, 0.0045, 0.0020, 0.0050, 0.0030, 0.0045, 0.0015, 0.0050, 0.0035,
         0.0025, 0.0055, 0.0040, 0.0020, 0.0050, 0.0030, 0.0053, 0.0025, 0.0045, 0.0015,
         0.0040, 0.0030, 0.0045, 0.0060, 0.0035, 0.0073, 0.0050, 0.0065, 0.0031, 0.0055,
         0.0009, 0.0020, 0.0076, 0.0079, 0.0059, 0.0029, 0.0058, 0.0040, 0.0087, 0.0092,
         0.0026, 0.0091, 0.0086, 0.0040, 0.0094, 0.0057, 0.0104, 0.0060, 0.0117, 0.0035,
         0.0026, 0.0070, 0.0045, 0.0084, 0.0010, 0.0114, 0.0151, 0.0050, 0.0053, 0.0143,
         0.0192, 0.0056, 0.0133, 0.0105, 0.0109, 0.0141, 0.0099, 0.0105, 0.0155, 0.0113,
         0.0251, 0.0155, 0.0158, 0.0161, 0.0241, 0.0258, 0.0213, 0.0131, 0.0180, 0.0215,
         0.0274, 0.0196, 0.0238, 0.0196, 0.0285, 0.0265, 0.0325, 0.0266, 0.0034]
p4_cv_extra_x = [0.53, 0.55, 0.57, 0.59, 0.61, 0.63, 0.65, 0.67, 0.69, 0.705,
                 0.715, 0.725, 0.74, 0.755, 0.768, 0.78, 0.795, 0.81, 0.825, 0.842,
                 0.858, 0.872, 0.888, 0.90, 0.93, 0.945, 0.96, 0.975, 1.005, 1.022,
                 1.038, 1.052, 1.068, 1.083, 1.095, 1.108, 1.122, 1.14, 1.16, 1.175,
                 1.188, 1.203, 1.218, 1.235, 1.255, 1.268, 1.283, 1.298, 1.312, 1.328,
                 1.355, 1.38, 1.40, 1.43, 1.46, 1.48, 1.52, 1.55]
p4_cv_extra = [0.0008, 0.0012, 0.0010, 0.0015, 0.0013, 0.0018, 0.0016, 0.0020, 0.0018, 0.0022,
               0.0020, 0.0025, 0.0023, 0.0027, 0.0024, 0.0030, 0.0026, 0.0028, 0.0032, 0.0029,
               0.0034, 0.0030, 0.0036, 0.0032, 0.0038, 0.0035, 0.0042, 0.0038, 0.0040, 0.0032,
               0.0050, 0.0038, 0.0055, 0.0040, 0.0030, 0.0058, 0.0045, 0.0060, 0.0040, 0.0062,
               0.0035, 0.0058, 0.0045, 0.0065, 0.0040, 0.0060, 0.0045, 0.0030, 0.0055, 0.0040,
               0.0050, 0.0060, 0.0045, 0.0065, 0.0050, 0.0065, 0.0070, 0.0075]

# x tick step, x minor step, x label format
PANELS = [
    (p1_mc_x, p1_mc, p1_mc_extra_x, p1_mc_extra,
     p1_cv_x, p1_cv, p1_cv_extra_x, p1_cv_extra, 0.5, 0.25, "%.1f"),
    (p2_mc_x, p2_mc, p2_mc_extra_x, p2_mc_extra,
     p2_cv_x, p2_cv, p2_cv_extra_x, p2_cv_extra, 0.5, 0.25, "%.1f"),
    (p3_mc_x, p3_mc, p3_mc_extra_x, p3_mc_extra,
     p3_cv_x, p3_cv, p3_cv_extra_x, p3_cv_extra, 0.5, 0.25, "%.1f"),
    (p4_mc_x, p4_mc, p4_mc_extra_x, p4_mc_extra,
     p4_cv_x, p4_cv, p4_cv_extra_x, p4_cv_extra, 1.0, 0.5, "%.0f"),
]

W, H = 1500, 3000
LW = 1.7
MS = 7.5


def fx(px):
    return px / W


def fy(py):
    return 1 - py / H


def merged(xs, ys, ex, ey):
    """Join main and extra readings, ordered by x like geom_line does."""
    pairs = sorted(zip(list(xs) + list(ex), list(ys) + list(ey)))
    return [p[0] for p in pairs], [p[1] for p in pairs]


fig = plt.figure(figsize=(W / 100, H / 100), dpi=100)

for k, (mx, my, mex, mey, cx, cy_, cex, cey, xstep, xminor, xfmt) in enumerate(PANELS):
    mc_x, mc = merged(mx, my, mex, mey)
    cv_x, cv = merged(cx, cy_, cex, cey)
    off = 750 * k
    top, bottom = off + 52, off + 676
    ax = fig.add_axes([fx(97), fy(bottom), (1233 - 97) / W, (bottom - top) / H])
    ax.set_facecolor("#EBEBEB")
    for s in ax.spines.values():
        s.set_visible(False)

    # lines first, then points (ggplot layer order)
    ax.plot(mc_x, mc, color=COLORS[0], lw=LW, zorder=2)
    ax.plot(cv_x, cv, color=COLORS[1], lw=LW, zorder=2)
    ax.plot(mc_x, mc, ls="none", marker="o", ms=MS, mec="none", color=COLORS[0], zorder=3)
    ax.plot(cv_x, cv, ls="none", marker="o", ms=MS, mec="none", color=COLORS[1], zorder=3)
    ax.margins(0.05)

    ax.xaxis.set_major_locator(MultipleLocator(xstep))
    ax.xaxis.set_minor_locator(MultipleLocator(xminor))
    ax.xaxis.set_major_formatter(FormatStrFormatter(xfmt))
    ax.yaxis.set_major_locator(MultipleLocator(0.01))
    ax.yaxis.set_minor_locator(MultipleLocator(0.005))
    ax.yaxis.set_major_formatter(FormatStrFormatter("%.2f"))
    ax.grid(which="major", color="white", lw=2.0)
    ax.grid(which="minor", color="white", lw=1.0)
    ax.set_axisbelow(True)
    ax.tick_params(which="major", length=5, width=1.3, color="#333333",
                   labelsize=17, labelcolor="#4D4D4D", pad=4)
    ax.tick_params(which="minor", length=0)
    ax.set_title(TITLES[k], loc="left", fontsize=20.5, pad=13, color="black")

    # legend drawn by hand: grey key boxes with line + point
    for j, (name, color) in enumerate(zip(SERIES, COLORS)):
        ky = off + 365.5 + 36 * j
        fig.add_artist(Rectangle((fx(1274), fy(ky + 17)), 34 / W, 34 / H,
                                 transform=fig.transFigure, facecolor="#F2F2F2",
                                 edgecolor="none"))
        fig.add_artist(Line2D([fx(1276), fx(1306)], [fy(ky), fy(ky)],
                              transform=fig.transFigure, color=color, lw=LW))
        fig.add_artist(Line2D([fx(1291)], [fy(ky)], transform=fig.transFigure,
                              ls="none", marker="o", ms=MS, mec="none", color=color))
        fig.text(fx(1322), fy(ky), name, fontsize=17, va="center", ha="left",
                 color="black")

fig.savefig("out.png", dpi=100)
